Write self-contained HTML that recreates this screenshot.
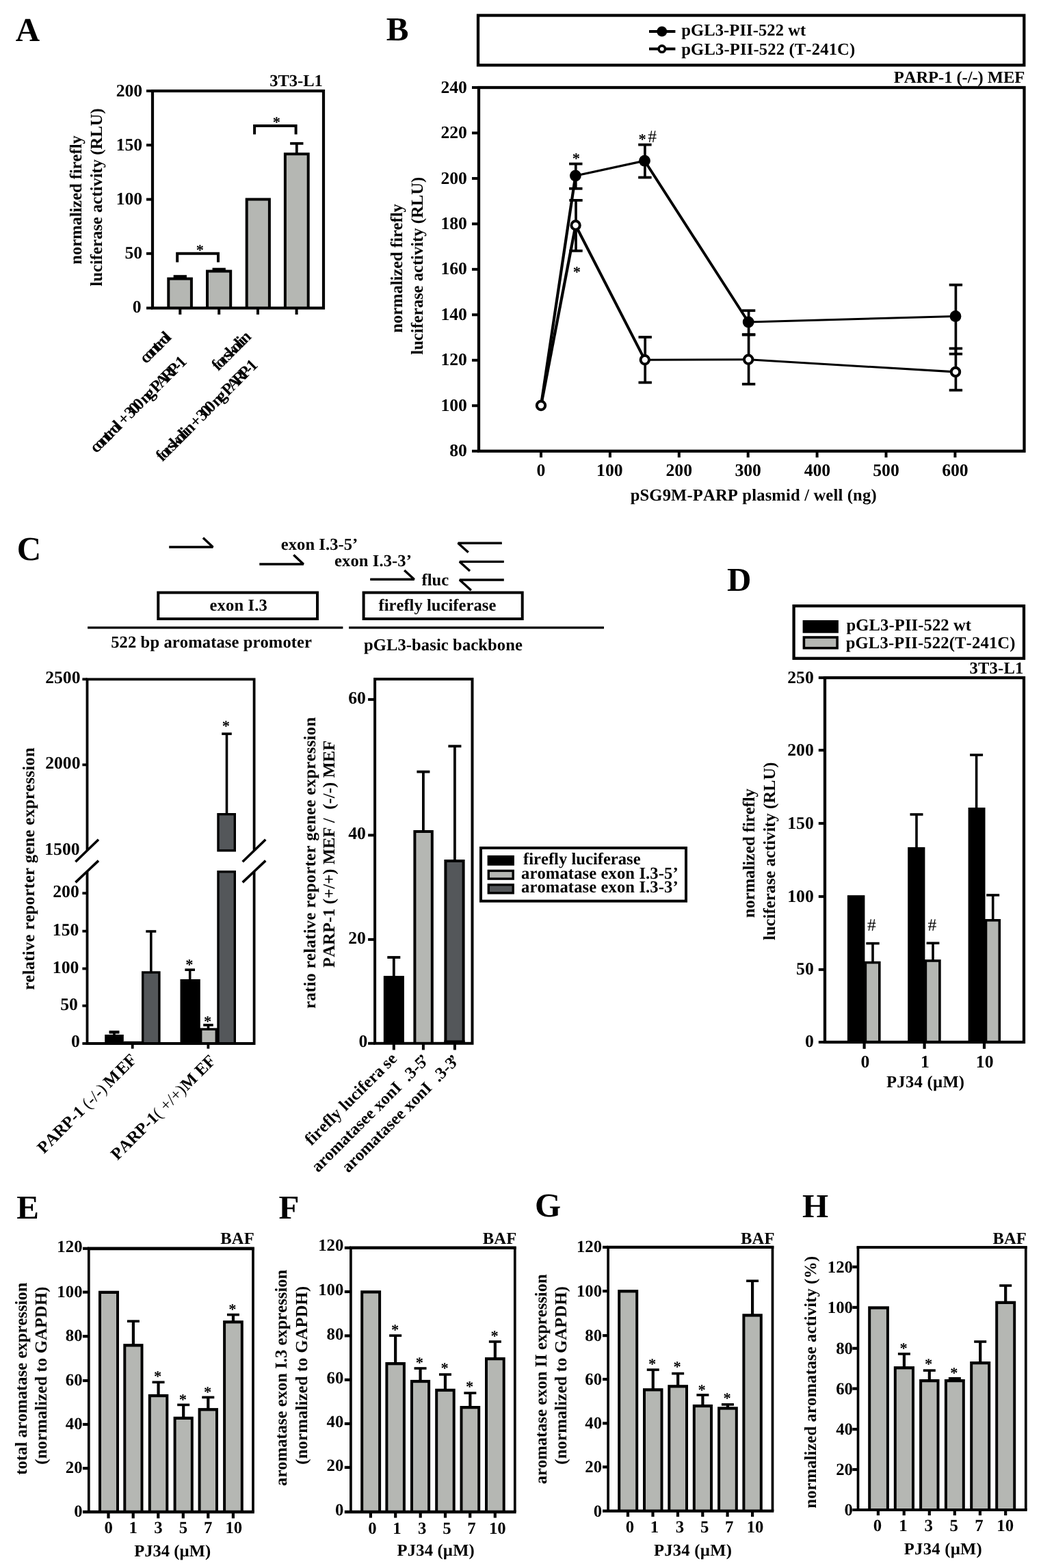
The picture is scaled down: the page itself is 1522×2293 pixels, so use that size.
<!DOCTYPE html>
<html lang="en">
<head>
<meta charset="utf-8">
<title>Figure: PARP-1 and aromatase promoter activity</title>
<style>
html,body{margin:0;padding:0;background:#fff}
body{width:1522px;height:2293px;overflow:hidden}
svg{display:block}
text{font-family:"Liberation Serif","DejaVu Serif",serif;font-weight:bold;font-size:24.6px;fill:#000;stroke:none;white-space:pre;font-kerning:none;font-variant-ligatures:none;text-rendering:geometricPrecision}
text.r,tspan.r{font-weight:normal}
text.r{font-size:25.5px}
text.s{font-size:22.5px}
text.t{font-size:25.7px}
text.u{font-size:24.8px}
text.p{font-size:49px}
</style>
</head>
<body>
<svg width="1522" height="2293" viewBox="0 0 1522 2293" stroke="#000" stroke-width="4" fill="none">
<rect x="0" y="0" width="1522" height="2293" fill="#fff" stroke="none"/>
<text class="p" x="22.82" y="59.7">A</text>
<text class="p" x="564.79" y="59.2">B</text>
<text class="p" x="24.81" y="819.3">C</text>
<text class="p" x="1062.94" y="864.3">D</text>
<text class="p" x="24.16" y="1782">E</text>
<text class="p" x="407.56" y="1782">F</text>
<text class="p" x="782.01" y="1779">G</text>
<text class="p" x="1172.96" y="1780">H</text>
<rect x="244.3" y="405.6" width="37.6" height="44.9" fill="#000" stroke="none"/>
<rect x="248.3" y="409.6" width="29.6" height="40.9" fill="#b5b7b3" stroke="none"/>
<line x1="263.3" y1="404.4" x2="263.3" y2="406" stroke-width="3.8"/>
<line x1="253.65" y1="404.4" x2="272.95" y2="404.4" stroke-width="4.4"/>
<rect x="301" y="394.6" width="38.2" height="55.9" fill="#000" stroke="none"/>
<rect x="305" y="398.6" width="30.2" height="51.9" fill="#b5b7b3" stroke="none"/>
<line x1="320.2" y1="393.6" x2="320.2" y2="395" stroke-width="3.8"/>
<line x1="310.55" y1="393.6" x2="329.85" y2="393.6" stroke-width="3.8"/>
<rect x="358.7" y="289.5" width="37.2" height="161" fill="#000" stroke="none"/>
<rect x="362.7" y="293.5" width="29.2" height="157" fill="#b5b7b3" stroke="none"/>
<rect x="414.9" y="223.2" width="37.8" height="227.3" fill="#000" stroke="none"/>
<rect x="418.9" y="227.2" width="29.8" height="223.3" fill="#b5b7b3" stroke="none"/>
<line x1="433.8" y1="209.8" x2="433.8" y2="224" stroke-width="3.8"/>
<line x1="424.15" y1="209.8" x2="443.45" y2="209.8" stroke-width="3.8"/>
<rect x="223" y="133" width="250" height="317.5" stroke-width="4.2"/>
<line x1="214" y1="133" x2="223" y2="133"/>
<text class="t" x="169.63" y="140.6">200</text>
<line x1="214" y1="212.2" x2="223" y2="212.2"/>
<text class="t" x="169.63" y="219.8">150</text>
<line x1="214" y1="291.6" x2="223" y2="291.6"/>
<text class="t" x="169.63" y="299.2">100</text>
<line x1="214" y1="370.8" x2="223" y2="370.8"/>
<text class="t" x="182.48" y="378.4">50</text>
<line x1="214" y1="450.5" x2="223" y2="450.5"/>
<text class="t" x="193.83" y="457.3">0</text>
<line x1="263.3" y1="450.5" x2="263.3" y2="460"/>
<line x1="320.2" y1="450.5" x2="320.2" y2="460"/>
<line x1="377" y1="450.5" x2="377" y2="460"/>
<line x1="433.6" y1="450.5" x2="433.6" y2="460"/>
<path d="M259.2 383.5 L259.2 370.8 L319 370.8 L319 383.5"/>
<path d="M372.1 196.6 L372.1 184.1 L432.6 184.1 L432.6 196.6"/>
<text class="s" x="286.77" y="372.8">*</text>
<text class="s" x="398.77" y="185.6">*</text>
<text x="394.28" y="125.6" letter-spacing="-0.08">3T3-L1</text>
<text transform="translate(119 386.1) rotate(-90)" x="-0.66" y="0" letter-spacing="-0.04">normalized firefly</text>
<text transform="translate(149 418.2) rotate(-90)" x="-0.48" y="0" letter-spacing="0.04">luciferase activity (RLU)</text>
<text transform="translate(214.3 532.1) rotate(-45)" x="-0.84 6.69 15.18 24.62 30.27 37.8 46.29" y="0">control</text>
<text transform="translate(141.7 662.9) rotate(-45)" x="-0.84 6.85 15.51 25.14 30.91 38.59 47.25 52.07 56.4 66.27 70.6 79.26 87.92 96.58 100.91 110.54 119.2 123.53 134.11 146.62 159.13 169.71 175.47" y="0">control + 300 ng PARP-1</text>
<text transform="translate(319.1 543.2) rotate(-45)" x="-0.18 5.57 14.2 21.86 28.57 38.17 46.8 51.6 56.39" y="0">forskolin</text>
<text transform="translate(237.5 675.7) rotate(-45)" x="-0.18 5.5 14.03 21.6 28.24 37.73 46.26 51 55.74 65.23 69.49 79.21 83.48 92.01 100.54 109.06 113.33 122.82 131.35 135.61 146.03 158.35 170.67 181.09 186.77" y="0">forskolin + 300 ng PARP-1</text>
<rect x="699" y="22.5" width="798.3" height="72.8" stroke-width="4.3"/>
<line x1="949" y1="46" x2="987.4" y2="46"/>
<circle cx="967.8" cy="46" r="7.5" fill="#000" stroke="none"/>
<line x1="949" y1="71.6" x2="987.4" y2="71.6"/>
<circle cx="967.8" cy="71.6" r="4.7" fill="#fff" stroke-width="3.6"/>
<text x="996.29" y="52.2" letter-spacing="0.07">pGL3-PII-522 wt</text>
<text x="996.29" y="80.2" letter-spacing="0.16">pGL3-PII-522 (T-241C)</text>
<text x="1306.78" y="121.4" letter-spacing="-0.07">PARP-1 (-/-) MEF</text>
<rect x="700" y="128" width="797.5" height="531.7" stroke-width="4.3"/>
<line x1="690" y1="659.7" x2="700" y2="659.7"/>
<text class="t" x="657.28" y="667.3">80</text>
<line x1="690" y1="593.24" x2="700" y2="593.24"/>
<text class="t" x="644.43" y="600.84">100</text>
<line x1="690" y1="526.78" x2="700" y2="526.78"/>
<text class="t" x="644.43" y="534.38">120</text>
<line x1="690" y1="460.31" x2="700" y2="460.31"/>
<text class="t" x="644.43" y="467.91">140</text>
<line x1="690" y1="393.85" x2="700" y2="393.85"/>
<text class="t" x="644.43" y="401.45">160</text>
<line x1="690" y1="327.39" x2="700" y2="327.39"/>
<text class="t" x="644.43" y="334.99">180</text>
<line x1="690" y1="260.93" x2="700" y2="260.93"/>
<text class="t" x="644.43" y="268.53">200</text>
<line x1="690" y1="194.46" x2="700" y2="194.46"/>
<text class="t" x="644.43" y="202.06">220</text>
<line x1="690" y1="128" x2="700" y2="128"/>
<text class="t" x="644.43" y="135.6">240</text>
<line x1="791" y1="659.7" x2="791" y2="669"/>
<text class="t" x="784.58" y="696">0</text>
<line x1="891.9" y1="659.7" x2="891.9" y2="669"/>
<text class="t" x="872.09" y="696">100</text>
<line x1="992.8" y1="659.7" x2="992.8" y2="669"/>
<text class="t" x="973.47" y="696">200</text>
<line x1="1093.7" y1="659.7" x2="1093.7" y2="669"/>
<text class="t" x="1074.43" y="696">300</text>
<line x1="1194.6" y1="659.7" x2="1194.6" y2="669"/>
<text class="t" x="1175.64" y="696">400</text>
<line x1="1295.5" y1="659.7" x2="1295.5" y2="669"/>
<text class="t" x="1276.2" y="696">500</text>
<line x1="1396.4" y1="659.7" x2="1396.4" y2="669"/>
<text class="t" x="1377.18" y="696">600</text>
<text x="921.69" y="731.8" letter-spacing="0.16">pSG9M-PARP plasmid / well (ng)</text>
<text transform="translate(587.7 486.1) rotate(-90)" x="-0.66" y="0" letter-spacing="-0.04">normalized firefly</text>
<text transform="translate(617.7 518.2) rotate(-90)" x="-0.48" y="0" letter-spacing="0.01">luciferase activity (RLU)</text>
<line x1="791" y1="593" x2="841.4" y2="257" stroke-width="4.2"/>
<line x1="841.4" y1="257" x2="942.5" y2="235.2" stroke-width="3.3"/>
<line x1="942.5" y1="235.2" x2="1094.2" y2="471" stroke-width="3.9"/>
<line x1="1094.2" y1="471" x2="1397" y2="462.5" stroke-width="3.1"/>
<line x1="791" y1="593" x2="841.6" y2="329.5" stroke-width="4.2"/>
<line x1="841.6" y1="329.5" x2="942.8" y2="526.3"/>
<line x1="942.8" y1="526.3" x2="1094.2" y2="525.8" stroke-width="3.1"/>
<line x1="1094.2" y1="525.8" x2="1397" y2="543.9" stroke-width="3.1"/>
<line x1="841.8" y1="239.6" x2="841.8" y2="275.8" stroke-width="3.7"/>
<line x1="832.1" y1="239.6" x2="851.5" y2="239.6" stroke-width="3.8"/>
<line x1="832.1" y1="275.8" x2="851.5" y2="275.8" stroke-width="3.8"/>
<line x1="942.9" y1="211.6" x2="942.9" y2="259.5" stroke-width="3.7"/>
<line x1="933.2" y1="211.6" x2="952.6" y2="211.6" stroke-width="3.8"/>
<line x1="933.2" y1="259.5" x2="952.6" y2="259.5" stroke-width="3.8"/>
<line x1="1094.6" y1="454.2" x2="1094.6" y2="489.2" stroke-width="3.7"/>
<line x1="1084.9" y1="454.2" x2="1104.3" y2="454.2" stroke-width="3.8"/>
<line x1="1084.9" y1="489.2" x2="1104.3" y2="489.2" stroke-width="3.8"/>
<line x1="1397.4" y1="416.6" x2="1397.4" y2="517.6" stroke-width="3.7"/>
<line x1="1387.7" y1="416.6" x2="1407.1" y2="416.6" stroke-width="3.8"/>
<line x1="1387.7" y1="517.6" x2="1407.1" y2="517.6" stroke-width="3.8"/>
<line x1="842" y1="292.9" x2="842" y2="366.8" stroke-width="3.7"/>
<line x1="832.3" y1="292.9" x2="851.7" y2="292.9" stroke-width="3.8"/>
<line x1="832.3" y1="366.8" x2="851.7" y2="366.8" stroke-width="3.8"/>
<line x1="943.2" y1="493" x2="943.2" y2="559.4" stroke-width="3.7"/>
<line x1="933.5" y1="493" x2="952.9" y2="493" stroke-width="3.8"/>
<line x1="933.5" y1="559.4" x2="952.9" y2="559.4" stroke-width="3.8"/>
<line x1="1094.6" y1="489.6" x2="1094.6" y2="561.7" stroke-width="3.7"/>
<line x1="1084.9" y1="489.6" x2="1104.3" y2="489.6" stroke-width="3.8"/>
<line x1="1084.9" y1="561.7" x2="1104.3" y2="561.7" stroke-width="3.8"/>
<line x1="1397.4" y1="509.6" x2="1397.4" y2="570.6" stroke-width="3.7"/>
<line x1="1387.7" y1="509.6" x2="1407.1" y2="509.6" stroke-width="3.8"/>
<line x1="1387.7" y1="570.6" x2="1407.1" y2="570.6" stroke-width="3.8"/>
<circle cx="841.4" cy="257" r="8.4" fill="#000" stroke="none"/>
<circle cx="942.5" cy="235.2" r="8.4" fill="#000" stroke="none"/>
<circle cx="1094.2" cy="471" r="8.4" fill="#000" stroke="none"/>
<circle cx="1397" cy="462.5" r="8.4" fill="#000" stroke="none"/>
<circle cx="791" cy="593" r="6.2" fill="#fff"/>
<circle cx="841.6" cy="329.5" r="6.2" fill="#fff"/>
<circle cx="942.8" cy="526.3" r="6.2" fill="#fff"/>
<circle cx="1094.2" cy="525.8" r="6.2" fill="#fff"/>
<circle cx="1397" cy="543.9" r="6.2" fill="#fff"/>
<text class="s" x="836.77" y="239.2">*</text>
<text class="s" x="837.77" y="405.2">*</text>
<text class="s" x="933.58" y="211.3">*</text>
<text class="r" x="947.23" y="207.9">#</text>
<path d="M247.2 800 L311.3 800 L296.9 786.6" stroke-width="3.4" stroke-linejoin="bevel"/>
<path d="M379.3 825 L443.7 825 L429.3 811.6" stroke-width="3.4" stroke-linejoin="bevel"/>
<path d="M541.2 847.3 L605.6 847.3 L591.2 833.9" stroke-width="3.4" stroke-linejoin="bevel"/>
<path d="M733.8 794.2 L669.7 794.2 L684.7 807.8" stroke-width="3.4" stroke-linejoin="bevel"/>
<path d="M736.8 821.4 L672 821.4 L687 835" stroke-width="3.4" stroke-linejoin="bevel"/>
<path d="M736.8 848 L672 848 L688.8 863.23" stroke-width="3.4" stroke-linejoin="bevel"/>
<text x="410.76" y="803.6" letter-spacing="0.05">exon I.3-5’</text>
<text x="489.06" y="828.2" letter-spacing="0.08">exon I.3-3’</text>
<text x="616.62" y="855.6" letter-spacing="-0.04">fluc</text>
<rect x="231.3" y="866.6" width="232.7" height="38.4"/>
<rect x="531.6" y="866.6" width="232.1" height="38.4"/>
<text x="306.56" y="893" letter-spacing="0.12">exon I.3</text>
<text x="553.42" y="893" letter-spacing="0.03">firefly luciferase</text>
<line x1="128.1" y1="917.8" x2="501.4" y2="917.8" stroke-width="3.2"/>
<line x1="510.1" y1="917.8" x2="883" y2="917.8" stroke-width="3.2"/>
<text x="162.22" y="946.6" letter-spacing="0.09">522 bp aromatase promoter</text>
<text x="531.89" y="950.8" letter-spacing="0.1">pGL3-basic backbone</text>
<rect x="153.2" y="1513" width="27.6" height="13" fill="#000" stroke="none"/>
<line x1="167" y1="1509.4" x2="167" y2="1514" stroke-width="3.6"/>
<line x1="159.5" y1="1509.4" x2="174.5" y2="1509.4" stroke-width="4.4"/>
<line x1="180.8" y1="1524.6" x2="207" y2="1524.6" stroke-width="3.6"/>
<rect x="207" y="1420.3" width="27.6" height="105.7" fill="#000" stroke="none"/>
<rect x="210.4" y="1423.7" width="20.8" height="102.3" fill="#54575a" stroke="none"/>
<line x1="220.8" y1="1362" x2="220.8" y2="1421" stroke-width="3.6"/>
<line x1="213.3" y1="1362" x2="228.3" y2="1362" stroke-width="3.6"/>
<rect x="263.5" y="1432" width="29.3" height="94" fill="#000" stroke="none"/>
<line x1="277.7" y1="1418.2" x2="277.7" y2="1433" stroke-width="3.6"/>
<line x1="270.4" y1="1418.2" x2="285" y2="1418.2" stroke-width="3.6"/>
<rect x="292" y="1503.4" width="26" height="22.6" fill="#000" stroke="none"/>
<rect x="295.4" y="1506.8" width="19.2" height="19.2" fill="#b5b7b3" stroke="none"/>
<line x1="304.5" y1="1499" x2="304.5" y2="1504" stroke-width="3.6"/>
<line x1="297.2" y1="1499" x2="311.8" y2="1499" stroke-width="3.6"/>
<rect x="317.3" y="1273.1" width="27.7" height="252.9" fill="#000" stroke="none"/>
<rect x="320.7" y="1276.5" width="20.9" height="249.5" fill="#54575a" stroke="none"/>
<rect x="317.3" y="1189" width="27.7" height="56.5" fill="#000" stroke="none"/>
<rect x="320.7" y="1192.4" width="20.9" height="49.7" fill="#54575a" stroke="none"/>
<line x1="331.5" y1="1073.1" x2="331.5" y2="1190" stroke-width="3.6"/>
<line x1="324.2" y1="1073.1" x2="338.8" y2="1073.1" stroke-width="3.6"/>
<path d="M127.5 1243 L127.5 993.3 L371.6 993.3 L371.6 1243" stroke-width="3.8"/>
<path d="M127.5 1275 L127.5 1526 L371.6 1526 L371.6 1275" stroke-width="3.8"/>
<line x1="110.4" y1="1260.2" x2="144" y2="1227.7" stroke-width="3.6"/>
<line x1="110.4" y1="1290.4" x2="144" y2="1258.6" stroke-width="3.6"/>
<line x1="354.7" y1="1260.2" x2="388.3" y2="1227.7" stroke-width="3.6"/>
<line x1="354.7" y1="1290.4" x2="388.3" y2="1258.6" stroke-width="3.6"/>
<line x1="120.4" y1="993.3" x2="127.5" y2="993.3" stroke-width="3.8"/>
<text class="t" x="66.18" y="999.3">2500</text>
<line x1="120.4" y1="1118.4" x2="127.5" y2="1118.4" stroke-width="3.8"/>
<text class="t" x="66.18" y="1124.4">2000</text>
<text class="t" x="65.28" y="1250">1500</text>
<line x1="120.4" y1="1306.2" x2="127.5" y2="1306.2" stroke-width="3.8"/>
<text class="t" x="77.23" y="1312.2">200</text>
<line x1="120.4" y1="1361.7" x2="127.5" y2="1361.7" stroke-width="3.8"/>
<text class="t" x="76.83" y="1367.7">150</text>
<line x1="120.4" y1="1416.5" x2="127.5" y2="1416.5" stroke-width="3.8"/>
<text class="t" x="76.83" y="1422.5">100</text>
<line x1="120.4" y1="1470.8" x2="127.5" y2="1470.8" stroke-width="3.8"/>
<text class="t" x="88.18" y="1476.8">50</text>
<line x1="120.4" y1="1526" x2="127.5" y2="1526" stroke-width="3.8"/>
<text class="t" x="103.93" y="1531">0</text>
<line x1="193.7" y1="1526" x2="193.7" y2="1533.6" stroke-width="3.8"/>
<line x1="304.4" y1="1526" x2="304.4" y2="1533.6" stroke-width="3.8"/>
<text class="s" x="324.68" y="1069.1">*</text>
<text class="s" x="271.18" y="1417.6">*</text>
<text class="s" x="297.88" y="1500.9">*</text>
<text transform="translate(50.4 1447.2) rotate(-90)" x="-0.66" y="0" letter-spacing="0.3">relative reporter gene expression</text>
<text transform="translate(64.6 1687.7) rotate(-45)" x="-0.42" y="0">PARP-1 <tspan class="r">(-/-)</tspan><tspan dx="-1.5"> M</tspan><tspan dx="2.5">EF</tspan></text>
<text transform="translate(172.1 1697.2) rotate(-45)" x="-0.42" y="0">PARP-1<tspan class="r" dx="-6"> (</tspan><tspan class="r" dx="6.5">+/+)</tspan><tspan dx="-5.5"> M</tspan><tspan dx="6">EF</tspan></text>
<rect x="560.8" y="1427.1" width="30.1" height="98.7" fill="#000" stroke="none"/>
<line x1="575.8" y1="1400" x2="575.8" y2="1428" stroke-width="3.8"/>
<line x1="566.3" y1="1400" x2="585.3" y2="1400" stroke-width="3.8"/>
<rect x="604.4" y="1214" width="29.4" height="311.8" fill="#000" stroke="none"/>
<rect x="608.4" y="1218" width="21.4" height="307.8" fill="#b5b7b3" stroke="none"/>
<line x1="618.9" y1="1128.6" x2="618.9" y2="1215" stroke-width="3.8"/>
<line x1="609.4" y1="1128.6" x2="628.4" y2="1128.6" stroke-width="3.8"/>
<rect x="649.4" y="1257" width="30.2" height="268.8" fill="#000" stroke="none"/>
<rect x="653.4" y="1261" width="22.2" height="264.8" fill="#54575a" stroke="none"/>
<rect x="649.4" y="1521.4" width="30.2" height="4.4" fill="#000" stroke="none"/>
<line x1="664.9" y1="1091.2" x2="664.9" y2="1258" stroke-width="3.8"/>
<line x1="655.4" y1="1091.2" x2="674.4" y2="1091.2" stroke-width="3.8"/>
<rect x="548.1" y="993.1" width="142.4" height="532.7"/>
<line x1="538.1" y1="1022.9" x2="548.1" y2="1022.9"/>
<text class="t" x="509.28" y="1028.9">60</text>
<line x1="538.1" y1="1221.4" x2="548.1" y2="1221.4"/>
<text class="t" x="509.28" y="1227.4">40</text>
<line x1="538.1" y1="1373.9" x2="548.1" y2="1373.9"/>
<text class="t" x="509.28" y="1379.9">20</text>
<line x1="538.1" y1="1525.8" x2="548.1" y2="1525.8"/>
<text class="t" x="524.53" y="1531.2">0</text>
<line x1="575.8" y1="1525.8" x2="575.8" y2="1535.4"/>
<line x1="618.9" y1="1525.8" x2="618.9" y2="1535.4"/>
<line x1="664.9" y1="1525.8" x2="664.9" y2="1535.4"/>
<text transform="translate(461 1474.4) rotate(-90)" x="-0.66" y="0" letter-spacing="0.35">ratio relative reporter genee expression</text>
<text transform="translate(489.4 1414.5) rotate(-90)" x="-0.42" y="0" letter-spacing="0.08">PARP-1 (+/+) MEF /  (-/-) MEF</text>
<text transform="translate(455.3 1675.8) rotate(-45)" x="-0.18" y="0"><tspan letter-spacing="0.12">firefly lucifera</tspan><tspan dx="5.5">se</tspan></text>
<text transform="translate(465.5 1714.8) rotate(-45)" x="-0.79" y="0">aromatase<tspan dx="-6"> e</tspan><tspan dx="6.5">xon</tspan><tspan dx="-6"> I</tspan><tspan dx="12.5">.3-5</tspan><tspan dx="-3">’</tspan></text>
<text transform="translate(509.8 1715.3) rotate(-45)" x="-0.79" y="0">aromatase<tspan dx="-6"> e</tspan><tspan dx="6.5">xon</tspan><tspan dx="-6"> I</tspan><tspan dx="12.5">.3-3</tspan><tspan dx="-3">’</tspan></text>
<rect x="703" y="1240" width="300" height="77.7"/>
<rect x="712.6" y="1250.9" width="39.3" height="14.9" fill="#000" stroke="none"/>
<rect x="712.6" y="1271.7" width="39.3" height="15.1" fill="#000" stroke="none"/>
<rect x="716" y="1275.1" width="32.5" height="8.3" fill="#b5b7b3" stroke="none"/>
<rect x="712.6" y="1292.2" width="39.3" height="15.4" fill="#000" stroke="none"/>
<rect x="716" y="1295.6" width="32.5" height="8.6" fill="#54575a" stroke="none"/>
<text x="765.02" y="1263.9" letter-spacing="0.01">firefly luciferase</text>
<text x="762.01" y="1284.7" letter-spacing="0.11">aromatase exon I.3-5’</text>
<text x="762.01" y="1305.3" letter-spacing="0.11">aromatase exon I.3-3’</text>
<rect x="1160.6" y="886.1" width="336.4" height="76.7" stroke-width="4.3"/>
<rect x="1173.6" y="907" width="52.3" height="18.7" fill="#000" stroke="none"/>
<rect x="1173.6" y="930.2" width="52.3" height="19.3" fill="#000" stroke="none"/>
<rect x="1177.2" y="933.8" width="45.1" height="12.1" fill="#b5b7b3" stroke="none"/>
<text x="1237.59" y="922" letter-spacing="0.1">pGL3-PII-522 wt</text>
<text x="1236.69" y="947.8" letter-spacing="0.17">pGL3-PII-522(T-241C)</text>
<text x="1417.48" y="984.6" letter-spacing="0.2">3T3-L1</text>
<rect x="1238.9" y="1309.2" width="25.5" height="214.8" fill="#000" stroke="none"/>
<rect x="1263.6" y="1405.8" width="24" height="118.2" fill="#000" stroke="none"/>
<rect x="1267.2" y="1409.4" width="16.8" height="114.6" fill="#b5b7b3" stroke="none"/>
<line x1="1276" y1="1379.6" x2="1276" y2="1406" stroke-width="3.6"/>
<line x1="1266.3" y1="1379.6" x2="1285.7" y2="1379.6" stroke-width="3.6"/>
<rect x="1327.2" y="1238.9" width="25.2" height="285.1" fill="#000" stroke="none"/>
<line x1="1340" y1="1191" x2="1340" y2="1240" stroke-width="3.6"/>
<line x1="1330.5" y1="1191" x2="1349.5" y2="1191" stroke-width="3.6"/>
<rect x="1351.6" y="1403.2" width="24.1" height="120.8" fill="#000" stroke="none"/>
<rect x="1355.2" y="1406.8" width="16.9" height="117.2" fill="#b5b7b3" stroke="none"/>
<line x1="1364" y1="1379.2" x2="1364" y2="1404" stroke-width="3.6"/>
<line x1="1354.6" y1="1379.2" x2="1373.4" y2="1379.2" stroke-width="3.6"/>
<rect x="1415.6" y="1181" width="24.9" height="343" fill="#000" stroke="none"/>
<line x1="1427.6" y1="1104" x2="1427.6" y2="1182" stroke-width="3.6"/>
<line x1="1418.1" y1="1104" x2="1437.1" y2="1104" stroke-width="3.6"/>
<rect x="1439.7" y="1344" width="23.4" height="180" fill="#000" stroke="none"/>
<rect x="1443.3" y="1347.6" width="16.2" height="176.4" fill="#b5b7b3" stroke="none"/>
<line x1="1451.7" y1="1309" x2="1451.7" y2="1345" stroke-width="3.6"/>
<line x1="1442.2" y1="1309" x2="1461.2" y2="1309" stroke-width="3.6"/>
<rect x="1206" y="991.1" width="291" height="532.9" stroke-width="4.3"/>
<line x1="1196.8" y1="991.1" x2="1206" y2="991.1"/>
<text class="t" x="1151.23" y="998.5">250</text>
<line x1="1196.8" y1="1097.1" x2="1206" y2="1097.1"/>
<text class="t" x="1151.23" y="1104.5">200</text>
<line x1="1196.8" y1="1204.1" x2="1206" y2="1204.1"/>
<text class="t" x="1151.23" y="1211.5">150</text>
<line x1="1196.8" y1="1311.1" x2="1206" y2="1311.1"/>
<text class="t" x="1151.23" y="1318.5">100</text>
<line x1="1196.8" y1="1417.9" x2="1206" y2="1417.9"/>
<text class="t" x="1164.08" y="1425.3">50</text>
<line x1="1196.8" y1="1524" x2="1206" y2="1524"/>
<text class="t" x="1176.93" y="1531.4">0</text>
<line x1="1263.6" y1="1524" x2="1263.6" y2="1533.8" stroke-width="4.2"/>
<text class="t" x="1258.38" y="1561">0</text>
<line x1="1351.6" y1="1524" x2="1351.6" y2="1533.8" stroke-width="4.2"/>
<text class="t" x="1346.01" y="1561">1</text>
<line x1="1439" y1="1524" x2="1439" y2="1533.8" stroke-width="4.2"/>
<text class="t" x="1426.81" y="1561">10</text>
<text x="1296.08" y="1590" letter-spacing="0.27">PJ34 (µM)</text>
<text transform="translate(1103.3 1341.5) rotate(-90)" x="-0.66" y="0" letter-spacing="-0.01">normalized firefly</text>
<text transform="translate(1132.8 1374.5) rotate(-90)" x="-0.48" y="0" letter-spacing="0.04">luciferase activity (RLU)</text>
<text class="r" x="1267.92" y="1360.5">#</text>
<text class="r" x="1356.62" y="1360.5">#</text>
<rect x="144" y="1887.7" width="30" height="323.3" fill="#000" stroke="none"/>
<rect x="148" y="1892" width="22" height="319" fill="#b5b7b3" stroke="none"/>
<rect x="180.3" y="1965.2" width="29.2" height="245.8" fill="#000" stroke="none"/>
<rect x="184.3" y="1969.5" width="21.2" height="241.5" fill="#b5b7b3" stroke="none"/>
<line x1="194.9" y1="1932.1" x2="194.9" y2="1967.3" stroke-width="4.2"/>
<line x1="185.9" y1="1932.1" x2="203.9" y2="1932.1" stroke-width="3.6"/>
<rect x="216.8" y="2038.9" width="29.5" height="172.1" fill="#000" stroke="none"/>
<rect x="220.8" y="2043.2" width="21.5" height="167.8" fill="#b5b7b3" stroke="none"/>
<line x1="231.55" y1="2021.3" x2="231.55" y2="2041" stroke-width="4.2"/>
<line x1="222.55" y1="2021.3" x2="240.55" y2="2021.3" stroke-width="3.6"/>
<rect x="253.6" y="2071.7" width="29.2" height="139.3" fill="#000" stroke="none"/>
<rect x="257.6" y="2076" width="21.2" height="135" fill="#b5b7b3" stroke="none"/>
<line x1="268.2" y1="2054.4" x2="268.2" y2="2073.8" stroke-width="4.2"/>
<line x1="259.2" y1="2054.4" x2="277.2" y2="2054.4" stroke-width="3.6"/>
<rect x="289.6" y="2059.1" width="29.4" height="151.9" fill="#000" stroke="none"/>
<rect x="293.6" y="2063.4" width="21.4" height="147.6" fill="#b5b7b3" stroke="none"/>
<line x1="304.3" y1="2043.4" x2="304.3" y2="2061.2" stroke-width="4.2"/>
<line x1="295.3" y1="2043.4" x2="313.3" y2="2043.4" stroke-width="3.6"/>
<rect x="326.1" y="1931.1" width="29.7" height="279.9" fill="#000" stroke="none"/>
<rect x="330.1" y="1935.4" width="21.7" height="275.6" fill="#b5b7b3" stroke="none"/>
<line x1="340.95" y1="1922.6" x2="340.95" y2="1933.2" stroke-width="4.2"/>
<line x1="331.95" y1="1922.6" x2="349.95" y2="1922.6" stroke-width="3.6"/>
<path d="M129.8 2211 L129.8 1825.8 L370 1825.8 L370 2211" stroke-width="3.7"/>
<line x1="127.95" y1="1825.8" x2="371.85" y2="1825.8" stroke-width="4.8"/>
<line x1="121" y1="2211" x2="371.85" y2="2211" stroke-width="4.6"/>
<line x1="121" y1="1825.8" x2="129.8" y2="1825.8" stroke-width="4.2"/>
<text class="u" x="83.34" y="1831.4">120</text>
<line x1="121" y1="1889.6" x2="129.8" y2="1889.6" stroke-width="4.2"/>
<text class="u" x="83.34" y="1896.6">100</text>
<line x1="121" y1="1954.2" x2="129.8" y2="1954.2" stroke-width="4.2"/>
<text class="u" x="95.74" y="1961.2">80</text>
<line x1="121" y1="2019" x2="129.8" y2="2019" stroke-width="4.2"/>
<text class="u" x="95.74" y="2026">60</text>
<line x1="121" y1="2083" x2="129.8" y2="2083" stroke-width="4.2"/>
<text class="u" x="95.74" y="2090">40</text>
<line x1="121" y1="2147.2" x2="129.8" y2="2147.2" stroke-width="4.2"/>
<text class="u" x="95.74" y="2154.2">20</text>
<text class="u" x="108.14" y="2218">0</text>
<line x1="158.5" y1="2211" x2="158.5" y2="2220.4" stroke-width="4.2"/>
<text class="u" x="152.6" y="2242.2">0</text>
<line x1="194.7" y1="2211" x2="194.7" y2="2220.4" stroke-width="4.2"/>
<text class="u" x="188.45" y="2242.2">1</text>
<line x1="231.3" y1="2211" x2="231.3" y2="2220.4" stroke-width="4.2"/>
<text class="u" x="225.36" y="2242.2">3</text>
<line x1="267.8" y1="2211" x2="267.8" y2="2220.4" stroke-width="4.2"/>
<text class="u" x="261.86" y="2242.2">5</text>
<line x1="304.3" y1="2211" x2="304.3" y2="2220.4" stroke-width="4.2"/>
<text class="u" x="297.99" y="2242.2">7</text>
<line x1="340.9" y1="2211" x2="340.9" y2="2220.4" stroke-width="4.2"/>
<text class="u" x="329.48" y="2242.2">10</text>
<text x="322.29" y="1819.4" letter-spacing="0.14">BAF</text>
<text x="196.18" y="2276" letter-spacing="0.01">PJ34 (µM)</text>
<text transform="translate(38.9 2156.4) rotate(-90)" x="-0.4" y="0" letter-spacing="0.05">total aromatase expression</text>
<text transform="translate(67.8 2140.6) rotate(-90)" x="-1.08" y="0" letter-spacing="0.17">(normalized to GAPDH)</text>
<text class="s" x="225.07" y="2019.9">*</text>
<text class="s" x="261.68" y="2053.6">*</text>
<text class="s" x="297.88" y="2043">*</text>
<text class="s" x="334.18" y="1922.1">*</text>
<rect x="527.2" y="1887.2" width="29.9" height="323.8" fill="#000" stroke="none"/>
<rect x="531.2" y="1891.5" width="21.9" height="319.5" fill="#b5b7b3" stroke="none"/>
<rect x="563.4" y="1992" width="29.5" height="219" fill="#000" stroke="none"/>
<rect x="567.4" y="1996.3" width="21.5" height="214.7" fill="#b5b7b3" stroke="none"/>
<line x1="578.15" y1="1953.1" x2="578.15" y2="1994.1" stroke-width="4.2"/>
<line x1="569.15" y1="1953.1" x2="587.15" y2="1953.1" stroke-width="3.6"/>
<rect x="600" y="2017.9" width="29.1" height="193.1" fill="#000" stroke="none"/>
<rect x="604" y="2022.2" width="21.1" height="188.8" fill="#b5b7b3" stroke="none"/>
<line x1="614.55" y1="2001" x2="614.55" y2="2020" stroke-width="4.2"/>
<line x1="605.55" y1="2001" x2="623.55" y2="2001" stroke-width="3.6"/>
<rect x="636.2" y="2030.8" width="29.5" height="180.2" fill="#000" stroke="none"/>
<rect x="640.2" y="2035.1" width="21.5" height="175.9" fill="#b5b7b3" stroke="none"/>
<line x1="650.95" y1="2010" x2="650.95" y2="2032.9" stroke-width="4.2"/>
<line x1="641.95" y1="2010" x2="659.95" y2="2010" stroke-width="3.6"/>
<rect x="672.5" y="2056" width="29.7" height="155" fill="#000" stroke="none"/>
<rect x="676.5" y="2060.3" width="21.7" height="150.7" fill="#b5b7b3" stroke="none"/>
<line x1="687.35" y1="2037.1" x2="687.35" y2="2058.1" stroke-width="4.2"/>
<line x1="678.35" y1="2037.1" x2="696.35" y2="2037.1" stroke-width="3.6"/>
<rect x="709" y="1984.9" width="29.7" height="226.1" fill="#000" stroke="none"/>
<rect x="713" y="1989.2" width="21.7" height="221.8" fill="#b5b7b3" stroke="none"/>
<line x1="723.85" y1="1962" x2="723.85" y2="1987" stroke-width="4.2"/>
<line x1="714.85" y1="1962" x2="732.85" y2="1962" stroke-width="3.6"/>
<path d="M512.9 2211 L512.9 1824.8 L752.8 1824.8 L752.8 2211" stroke-width="3.7"/>
<line x1="511.05" y1="1824.8" x2="754.65" y2="1824.8" stroke-width="4.4"/>
<line x1="503.8" y1="2211" x2="754.65" y2="2211" stroke-width="4.6"/>
<line x1="503.8" y1="1824.8" x2="512.9" y2="1824.8" stroke-width="4.2"/>
<text class="u" x="465.14" y="1829.1">120</text>
<line x1="503.8" y1="1889" x2="512.9" y2="1889" stroke-width="4.2"/>
<text class="u" x="465.14" y="1894.4">100</text>
<line x1="503.8" y1="1953.4" x2="512.9" y2="1953.4" stroke-width="4.2"/>
<text class="u" x="477.54" y="1958.8">80</text>
<line x1="503.8" y1="2017.8" x2="512.9" y2="2017.8" stroke-width="4.2"/>
<text class="u" x="477.54" y="2023.2">60</text>
<line x1="503.8" y1="2082" x2="512.9" y2="2082" stroke-width="4.2"/>
<text class="u" x="477.54" y="2087.4">40</text>
<line x1="503.8" y1="2145.9" x2="512.9" y2="2145.9" stroke-width="4.2"/>
<text class="u" x="477.54" y="2151.3">20</text>
<text class="u" x="489.94" y="2216.4">0</text>
<line x1="541.9" y1="2211" x2="541.9" y2="2219.6" stroke-width="4.2"/>
<text class="u" x="538.3" y="2242.7">0</text>
<line x1="578.2" y1="2211" x2="578.2" y2="2219.6" stroke-width="4.2"/>
<text class="u" x="574.25" y="2242.7">1</text>
<line x1="614.7" y1="2211" x2="614.7" y2="2219.6" stroke-width="4.2"/>
<text class="u" x="611.06" y="2242.7">3</text>
<line x1="651" y1="2211" x2="651" y2="2219.6" stroke-width="4.2"/>
<text class="u" x="647.36" y="2242.7">5</text>
<line x1="687.2" y1="2211" x2="687.2" y2="2219.6" stroke-width="4.2"/>
<text class="u" x="683.19" y="2242.7">7</text>
<line x1="723.8" y1="2211" x2="723.8" y2="2219.6" stroke-width="4.2"/>
<text class="u" x="714.88" y="2242.7">10</text>
<text x="705.69" y="1819.4" letter-spacing="0.14">BAF</text>
<text x="580.58" y="2275.4" letter-spacing="0.17">PJ34 (µM)</text>
<text transform="translate(419.4 2172.1) rotate(-90)" x="-0.79" y="0" letter-spacing="0.02">aromatase exon I.3 expression</text>
<text transform="translate(448.9 2140.6) rotate(-90)" x="-1.08" y="0" letter-spacing="0.2">(normalized to GAPDH)</text>
<text class="s" x="571.98" y="1951.8">*</text>
<text class="s" x="607.77" y="1999.6">*</text>
<text class="s" x="644.58" y="2008">*</text>
<text class="s" x="681.08" y="2035.2">*</text>
<text class="s" x="717.38" y="1960.9">*</text>
<rect x="903.2" y="1886.1" width="30" height="323.6" fill="#000" stroke="none"/>
<rect x="907.2" y="1890.4" width="22" height="319.3" fill="#b5b7b3" stroke="none"/>
<rect x="940" y="2030.2" width="29.5" height="179.5" fill="#000" stroke="none"/>
<rect x="944" y="2034.5" width="21.5" height="175.2" fill="#b5b7b3" stroke="none"/>
<line x1="954.75" y1="2003.1" x2="954.75" y2="2032.3" stroke-width="4.2"/>
<line x1="945.75" y1="2003.1" x2="963.75" y2="2003.1" stroke-width="3.6"/>
<rect x="976.3" y="2025.2" width="29.7" height="184.5" fill="#000" stroke="none"/>
<rect x="980.3" y="2029.5" width="21.7" height="180.2" fill="#b5b7b3" stroke="none"/>
<line x1="991.15" y1="2008.6" x2="991.15" y2="2027.3" stroke-width="4.2"/>
<line x1="982.15" y1="2008.6" x2="1000.15" y2="2008.6" stroke-width="3.6"/>
<rect x="1012.8" y="2053.9" width="29.2" height="155.8" fill="#000" stroke="none"/>
<rect x="1016.8" y="2058.2" width="21.2" height="151.5" fill="#b5b7b3" stroke="none"/>
<line x1="1027.4" y1="2040" x2="1027.4" y2="2056" stroke-width="4.2"/>
<line x1="1018.4" y1="2040" x2="1036.4" y2="2040" stroke-width="3.6"/>
<rect x="1049.1" y="2057.3" width="29.7" height="152.4" fill="#000" stroke="none"/>
<rect x="1053.1" y="2061.6" width="21.7" height="148.1" fill="#b5b7b3" stroke="none"/>
<line x1="1063.95" y1="2053.9" x2="1063.95" y2="2059.4" stroke-width="4.2"/>
<line x1="1054.95" y1="2053.9" x2="1072.95" y2="2053.9" stroke-width="3.6"/>
<rect x="1085.4" y="1921.3" width="29.4" height="288.4" fill="#000" stroke="none"/>
<rect x="1089.4" y="1925.6" width="21.4" height="284.1" fill="#b5b7b3" stroke="none"/>
<line x1="1100.1" y1="1873.2" x2="1100.1" y2="1923.4" stroke-width="4.2"/>
<line x1="1091.1" y1="1873.2" x2="1109.1" y2="1873.2" stroke-width="3.6"/>
<path d="M889.1 2209.7 L889.1 1823.9 L1129.5 1823.9 L1129.5 2209.7" stroke-width="3.7"/>
<line x1="887.25" y1="1823.9" x2="1131.35" y2="1823.9" stroke-width="4.1"/>
<line x1="881" y1="2209.7" x2="1131.35" y2="2209.7" stroke-width="4.2"/>
<line x1="881" y1="1823.9" x2="889.1" y2="1823.9" stroke-width="4.2"/>
<text class="u" x="842.94" y="1831.2">120</text>
<line x1="881" y1="1888.1" x2="889.1" y2="1888.1" stroke-width="4.2"/>
<text class="u" x="842.94" y="1896.1">100</text>
<line x1="881" y1="1953.1" x2="889.1" y2="1953.1" stroke-width="4.2"/>
<text class="u" x="855.34" y="1961.1">80</text>
<line x1="881" y1="2017" x2="889.1" y2="2017" stroke-width="4.2"/>
<text class="u" x="855.34" y="2025">60</text>
<line x1="881" y1="2081.4" x2="889.1" y2="2081.4" stroke-width="4.2"/>
<text class="u" x="855.34" y="2089.4">40</text>
<line x1="881" y1="2145.3" x2="889.1" y2="2145.3" stroke-width="4.2"/>
<text class="u" x="855.34" y="2153.3">20</text>
<text class="u" x="867.74" y="2217.7">0</text>
<line x1="918" y1="2209.7" x2="918" y2="2218.1" stroke-width="4.2"/>
<text class="u" x="914.7" y="2240.9">0</text>
<line x1="954.5" y1="2209.7" x2="954.5" y2="2218.1" stroke-width="4.2"/>
<text class="u" x="950.85" y="2240.9">1</text>
<line x1="991" y1="2209.7" x2="991" y2="2218.1" stroke-width="4.2"/>
<text class="u" x="987.66" y="2240.9">3</text>
<line x1="1027.3" y1="2209.7" x2="1027.3" y2="2218.1" stroke-width="4.2"/>
<text class="u" x="1023.96" y="2240.9">5</text>
<line x1="1063.6" y1="2209.7" x2="1063.6" y2="2218.1" stroke-width="4.2"/>
<text class="u" x="1059.89" y="2240.9">7</text>
<line x1="1100.1" y1="2209.7" x2="1100.1" y2="2218.1" stroke-width="4.2"/>
<text class="u" x="1091.68" y="2240.9">10</text>
<text x="1083.09" y="1818.8" letter-spacing="0.14">BAF</text>
<text x="955.88" y="2274.6" letter-spacing="0.27">PJ34 (µM)</text>
<text transform="translate(798.9 2169.5) rotate(-90)" x="-0.79" y="0" letter-spacing="0.01">aromatase exon II expression</text>
<text transform="translate(827.8 2140.6) rotate(-90)" x="-1.08" y="0" letter-spacing="0.19">(normalized to GAPDH)</text>
<text class="s" x="948.08" y="2001.7">*</text>
<text class="s" x="984.58" y="2006.2">*</text>
<text class="s" x="1020.38" y="2039.6">*</text>
<text class="s" x="1057.38" y="2052">*</text>
<rect x="1269.2" y="1910.3" width="30.7" height="297.7" fill="#000" stroke="none"/>
<rect x="1273.2" y="1914.6" width="22.7" height="293.4" fill="#b5b7b3" stroke="none"/>
<rect x="1306.8" y="1998.1" width="30.2" height="209.9" fill="#000" stroke="none"/>
<rect x="1310.8" y="2002.4" width="22.2" height="205.6" fill="#b5b7b3" stroke="none"/>
<line x1="1321.9" y1="1979.9" x2="1321.9" y2="2000.2" stroke-width="4.2"/>
<line x1="1312.9" y1="1979.9" x2="1330.9" y2="1979.9" stroke-width="3.6"/>
<rect x="1344.1" y="2017" width="29.4" height="191" fill="#000" stroke="none"/>
<rect x="1348.1" y="2021.3" width="21.4" height="186.7" fill="#b5b7b3" stroke="none"/>
<line x1="1358.8" y1="2004.1" x2="1358.8" y2="2019.1" stroke-width="4.2"/>
<line x1="1349.8" y1="2004.1" x2="1367.8" y2="2004.1" stroke-width="3.6"/>
<rect x="1380.9" y="2017" width="29.9" height="191" fill="#000" stroke="none"/>
<rect x="1384.9" y="2021.3" width="21.9" height="186.7" fill="#b5b7b3" stroke="none"/>
<line x1="1395.85" y1="2015.7" x2="1395.85" y2="2019.1" stroke-width="4.2"/>
<line x1="1386.85" y1="2015.7" x2="1404.85" y2="2015.7" stroke-width="3.6"/>
<rect x="1418.2" y="1991" width="30" height="217" fill="#000" stroke="none"/>
<rect x="1422.2" y="1995.3" width="22" height="212.7" fill="#b5b7b3" stroke="none"/>
<line x1="1433.2" y1="1962" x2="1433.2" y2="1993.1" stroke-width="4.2"/>
<line x1="1424.2" y1="1962" x2="1442.2" y2="1962" stroke-width="3.6"/>
<rect x="1455.2" y="1902.7" width="30" height="305.3" fill="#000" stroke="none"/>
<rect x="1459.2" y="1907" width="22" height="301" fill="#b5b7b3" stroke="none"/>
<line x1="1470.2" y1="1880" x2="1470.2" y2="1904.8" stroke-width="4.2"/>
<line x1="1461.2" y1="1880" x2="1479.2" y2="1880" stroke-width="3.6"/>
<path d="M1254.5 2208 L1254.5 1824.1 L1499.8 1824.1 L1499.8 2208" stroke-width="3.7"/>
<line x1="1252.65" y1="1824.1" x2="1501.65" y2="1824.1" stroke-width="3.9"/>
<line x1="1246.3" y1="2208" x2="1501.65" y2="2208"/>
<line x1="1246.3" y1="1852.7" x2="1254.5" y2="1852.7" stroke-width="4.2"/>
<text class="u" x="1209.74" y="1861">120</text>
<line x1="1246.3" y1="1911.9" x2="1254.5" y2="1911.9" stroke-width="4.2"/>
<text class="u" x="1209.74" y="1920.2">100</text>
<line x1="1246.3" y1="1971.8" x2="1254.5" y2="1971.8" stroke-width="4.2"/>
<text class="u" x="1222.14" y="1980.1">80</text>
<line x1="1246.3" y1="2030.7" x2="1254.5" y2="2030.7" stroke-width="4.2"/>
<text class="u" x="1222.14" y="2039">60</text>
<line x1="1246.3" y1="2090.1" x2="1254.5" y2="2090.1" stroke-width="4.2"/>
<text class="u" x="1222.14" y="2098.4">40</text>
<line x1="1246.3" y1="2149" x2="1254.5" y2="2149" stroke-width="4.2"/>
<text class="u" x="1222.14" y="2157.3">20</text>
<text class="u" x="1234.54" y="2216.3">0</text>
<line x1="1283.9" y1="2208" x2="1283.9" y2="2216.1" stroke-width="4.2"/>
<text class="u" x="1276.7" y="2238.8">0</text>
<line x1="1321.7" y1="2208" x2="1321.7" y2="2216.1" stroke-width="4.2"/>
<text class="u" x="1314.15" y="2238.8">1</text>
<line x1="1358.8" y1="2208" x2="1358.8" y2="2216.1" stroke-width="4.2"/>
<text class="u" x="1351.56" y="2238.8">3</text>
<line x1="1395.8" y1="2208" x2="1395.8" y2="2216.1" stroke-width="4.2"/>
<text class="u" x="1388.56" y="2238.8">5</text>
<line x1="1432.9" y1="2208" x2="1432.9" y2="2216.1" stroke-width="4.2"/>
<text class="u" x="1425.29" y="2238.8">7</text>
<line x1="1470.2" y1="2208" x2="1470.2" y2="2216.1" stroke-width="4.2"/>
<text class="u" x="1457.28" y="2238.8">10</text>
<text x="1451.39" y="1819.4" letter-spacing="0.14">BAF</text>
<text x="1321.78" y="2272.5" letter-spacing="0.27">PJ34 (µM)</text>
<text transform="translate(1193 2205) rotate(-90)" x="-0.66" y="0" letter-spacing="0.11">normalized aromatase activity (%)</text>
<text class="s" x="1315.38" y="1978.6">*</text>
<text class="s" x="1352.08" y="2002.2">*</text>
<text class="s" x="1389.17" y="2014.6">*</text>
</svg>
</body>
</html>
